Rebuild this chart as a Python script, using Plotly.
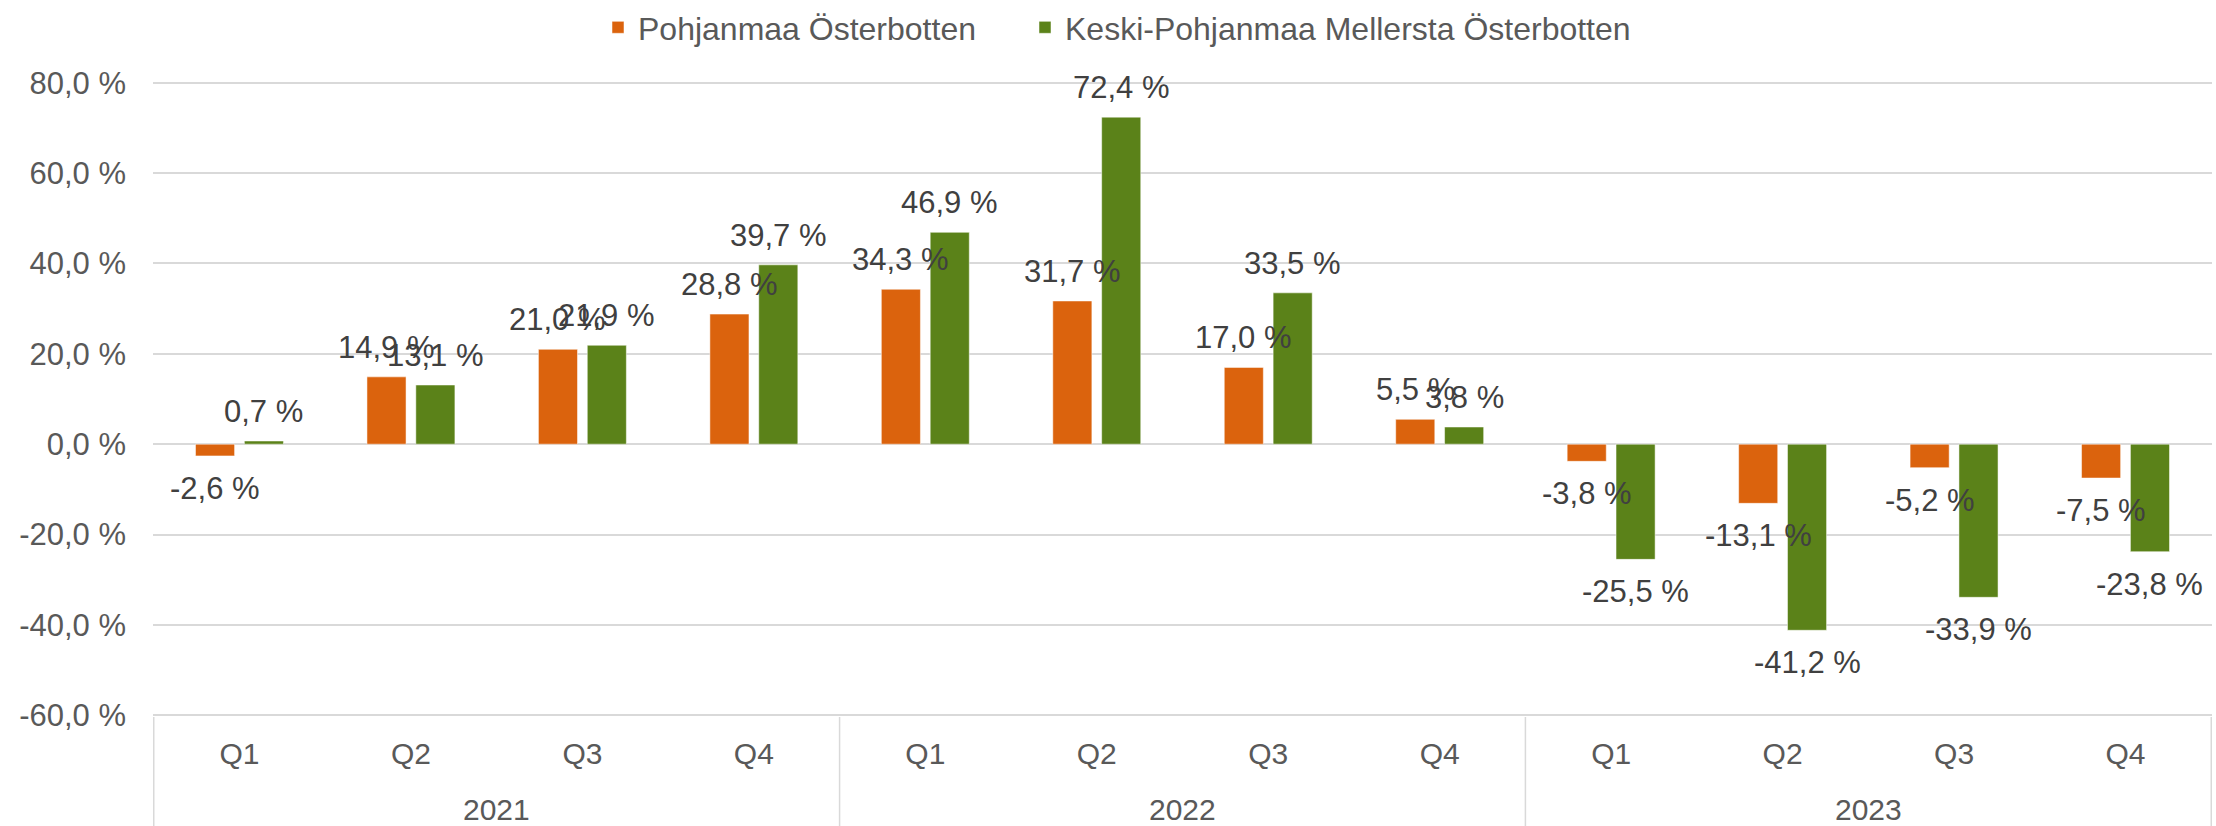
import plotly.graph_objects as go

years = ["2021"] * 4 + ["2022"] * 4 + ["2023"] * 4
quarters = ["Q1", "Q2", "Q3", "Q4"] * 3
pohjanmaa = [-2.6, 14.9, 21.0, 28.8, 34.3, 31.7, 17.0, 5.5, -3.8, -13.1, -5.2, -7.5]
keski = [0.7, 13.1, 21.9, 39.7, 46.9, 72.4, 33.5, 3.8, -25.5, -41.2, -33.9, -23.8]
names = ["Pohjanmaa Österbotten", "Keski-Pohjanmaa Mellersta Österbotten"]
colors = ["#db630d", "#5b8219"]
yticks = [-60, -40, -20, 0, 20, 40, 60, 80]

FONT = "Liberation Sans, Arial, sans-serif"
GRID = "#d9d9d9"
W, H = 2216, 826
M = dict(l=153, r=4, t=81, b=109)
BARGAP, GROUPGAP = 0.43, 0.2
LEGEND_X = [598 / W, 1025 / W]


def fmt(v):
    return f"{v:.1f}".replace(".", ",") + " %"


cats = [f"{y} {q}" for y, q in zip(years, quarters)]
series = [pohjanmaa, keski]

fig = go.Figure()
for k, (name, vals, col) in enumerate(zip(names, series, colors)):
    fig.add_trace(go.Bar(
        x=cats, y=vals, name=name,
        legend="legend" if k == 0 else f"legend{k + 1}",
        marker=dict(color=col, line=dict(color="rgba(255,255,255,0.5)", width=1)),
        cliponaxis=False,
    ))

# data labels: anchored on each bar's value, shifted to the bar's slot in its group
plot_w = W - M["l"] - M["r"]
plot_h = H - M["t"] - M["b"]
slot_px = plot_w / len(cats) * (1 - BARGAP) / len(series)
for i, vals in enumerate(series):
    off = (i - (len(series) - 1) / 2) * slot_px
    for j, v in enumerate(vals):
        fig.add_annotation(
            x=j, y=v, xref="x", yref="y", text=fmt(v), showarrow=False,
            xshift=off, yshift=10 if v >= 0 else -13,
            yanchor="bottom" if v >= 0 else "top",
            font=dict(family=FONT, size=31, color="#404040"))

# year group labels and dividers for the two-level category axis
unique_years = list(dict.fromkeys(years))
bottom_frac = -M["b"] / plot_h
start = 0
for yr in unique_years:
    n = years.count(yr)
    fig.add_annotation(x=start + (n - 1) / 2, y=-92 / plot_h, xref="x", yref="paper",
                       text=yr, showarrow=False, yanchor="middle",
                       font=dict(family=FONT, size=30, color="#595959"))
    fig.add_shape(type="line", xref="x", yref="paper", x0=start - 0.5, x1=start - 0.5,
                  y0=0, y1=bottom_frac, line=dict(color=GRID, width=1.5))
    start += n
fig.add_shape(type="line", xref="x", yref="paper", x0=start - 0.5, x1=start - 0.5,
              y0=0, y1=bottom_frac, line=dict(color=GRID, width=1.5))

legend_style = dict(orientation="h", xanchor="left", xref="container",
                    y=1.0, yanchor="top", yref="container",
                    font=dict(family=FONT, size=32, color="#595959"),
                    itemwidth=30)

fig.update_layout(
    width=W, height=H,
    margin=dict(**M, autoexpand=False),
    plot_bgcolor="white", paper_bgcolor="white",
    barmode="group", bargap=BARGAP, bargroupgap=GROUPGAP,
    font=dict(family=FONT, size=30, color="#595959"),
    legend=dict(x=LEGEND_X[0], **legend_style),
    legend2=dict(x=LEGEND_X[1], **legend_style),
    showlegend=True,
)
fig.update_yaxes(range=[-60.4, 80.4], tickvals=yticks, ticktext=[fmt(v) for v in yticks],
                 showgrid=True, gridcolor=GRID, gridwidth=1.5,
                 zeroline=True, zerolinecolor=GRID, zerolinewidth=1.5,
                 ticks="", showline=False, automargin=False, ticklabelstandoff=26,
                 tickfont=dict(family=FONT, size=31, color="#595959"))
fig.update_xaxes(type="category", tickvals=cats, ticktext=quarters,
                 showline=False, showgrid=False, ticks="", automargin=False,
                 ticklabelstandoff=16,
                 tickfont=dict(family=FONT, size=30, color="#595959"))

fig.write_html("out.html", config={"displayModeBar": False},
               post_script="document.body.style.margin='0';")
